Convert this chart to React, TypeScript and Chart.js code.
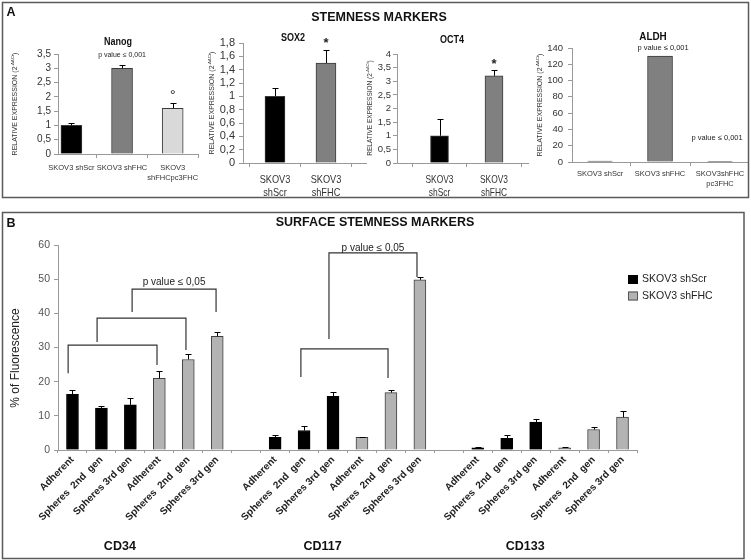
import React, { useEffect, useRef } from 'react';
import { Chart, registerables } from 'chart.js';

Chart.register(...registerables);

const W = 751;
const H = 560;
const FONT = 'Arial, "Liberation Sans", Helvetica, sans-serif';

// ---------------- Panel A data ----------------
const nanogCategories = [['SKOV3 shScr'], ['SKOV3 shFHC'], ['SKOV3', 'shFHCpc3FHC']];
const nanogValues = [1.0, 3.0, 1.6];
const nanogErrors = [0.1, 0.1, 0.2];
const nanogTicks = [0, 0.5, 1, 1.5, 2, 2.5, 3, 3.5];

const sox2Categories = [['SKOV3', 'shScr'], ['SKOV3', 'shFHC']];
const sox2Values = [1.0, 1.5];
const sox2Errors = [0.12, 0.2];
const sox2Ticks = [0, 0.2, 0.4, 0.6, 0.8, 1, 1.2, 1.4, 1.6, 1.8];

const oct4Categories = [['SKOV3', 'shScr'], ['SKOV3', 'shFHC']];
const oct4Values = [1.0, 3.2];
const oct4Errors = [0.6, 0.23];
const oct4Ticks = [0, 0.5, 1, 1.5, 2, 2.5, 3, 3.5, 4];

const aldhCategories = [['SKOV3 shScr'], ['SKOV3 shFHC'], ['SKOV3shFHC', 'pc3FHC']];
const aldhValues = [1, 130, 0.3];
const aldhErrors = [0, 0, 0];
const aldhTicks = [0, 20, 40, 60, 80, 100, 120, 140];

// ---------------- Panel B data ----------------
const markers = ['CD34', 'CD117', 'CD133'];
const conditions = ['Adherent', 'Spheres  2nd  gen', 'Spheres 3rd gen'];
const seriesNames = ['SKOV3 shScr', 'SKOV3 shFHC'];
const shScrValues = [[16.3, 12.3, 13.2], [3.7, 5.7, 15.7], [0.6, 3.4, 8.2]];
const shScrErrors = [[1.3, 0.5, 2.0], [0.8, 1.2, 1.4], [0.2, 1.1, 0.8]];
const shFhcValues = [[21.0, 26.5, 33.3], [3.7, 16.8, 49.8], [0.6, 6.0, 9.6]];
const shFhcErrors = [[2.2, 1.5, 1.2], [0.2, 0.8, 0.8], [0.2, 0.6, 1.7]];
const bTicks = [0, 10, 20, 30, 40, 50, 60];

// significance brackets (category index units, y in % units)
const bBrackets = [
  { from: -0.15, to: 2.92, y: 30.7, leftY: 22.5, rightY: 24.9 },
  { from: 0.85, to: 3.92, y: 38.6, leftY: 31.6, rightY: 29.3 },
  { from: 2.06, to: 4.96, y: 47.1, leftY: 40.4, rightY: 40.4 },
  { from: 7.89, to: 10.9, y: 29.6, leftY: 21.4, rightY: 21.1 },
  { from: 8.86, to: 11.9, y: 57.7, leftY: 32.5, rightY: 50.6 },
];
const bNotes = [
  { text: 'p value ≤ 0,05', at: 3.51, y: 49.0 },
  { text: 'p value ≤ 0,05', at: 10.38, y: 59.1 },
];

// ---------------- helpers ----------------
type TextOpts = {
  size: number;
  bold?: boolean;
  color?: string;
  align?: CanvasTextAlign;
  baseline?: CanvasTextBaseline;
  sx?: number;
  rot?: number;
};

function drawText(ctx: CanvasRenderingContext2D, text: string, x: number, y: number, o: TextOpts) {
  ctx.save();
  ctx.translate(x, y);
  if (o.rot) ctx.rotate(o.rot);
  if (o.sx && o.sx !== 1) ctx.scale(o.sx, 1);
  ctx.font = `${o.bold ? 'bold ' : ''}${o.size}px ${FONT}`;
  ctx.fillStyle = o.color ?? '#222';
  ctx.textAlign = o.align ?? 'center';
  ctx.textBaseline = o.baseline ?? 'middle';
  ctx.fillText(text, 0, 0);
  ctx.restore();
}

function drawYTitle(ctx: CanvasRenderingContext2D, cx: number, cy: number, size: number) {
  const main = 'RELATIVE EXPRESSION (2';
  const sup = '-ΔΔCt';
  const end = ')';
  const fMain = `${size}px ${FONT}`;
  const fSup = `${size * 0.62}px ${FONT}`;
  ctx.save();
  ctx.translate(cx, cy);
  ctx.rotate(-Math.PI / 2);
  ctx.fillStyle = '#333';
  ctx.textAlign = 'left';
  ctx.textBaseline = 'middle';
  ctx.font = fMain;
  const w1 = ctx.measureText(main).width;
  const w3 = ctx.measureText(end).width;
  ctx.font = fSup;
  const w2 = ctx.measureText(sup).width;
  let x = -(w1 + w2 + w3) / 2;
  ctx.font = fMain;
  ctx.fillText(main, x, 0);
  x += w1;
  ctx.font = fSup;
  ctx.fillText(sup, x, -size * 0.38);
  x += w2;
  ctx.font = fMain;
  ctx.fillText(end, x, 0);
  ctx.restore();
}

type Note = { text: string; bar: number; dy: number; dx?: number; size: number; bold?: boolean };
type ASpec = {
  key: string;
  area: { l: number; t: number; r: number; b: number };
  xMin: number;
  xMax: number;
  yTicks: number[];
  values: number[];
  errors: number[];
  categories: string[][];
  colors: string[];
  barWidth: number;
  tickFont: number;
  tickPad: number;
  labelFont: number;
  labelSx: number;
  labelY: number;
  labelLH: number;
  title: string;
  titleX: number;
  titleY: number;
  titleFont: number;
  yTitleX: number;
  yTitleY: number;
  yTitleSize: number;
  notes: Note[];
};

function aConfig(s: ASpec): any {
  const Wy = 30;
  const Hx = 20;
  const plugin = {
    id: 'panelA_' + s.key,
    afterDraw(chart: any) {
      const ctx: CanvasRenderingContext2D = chart.ctx;
      const xs = chart.scales.x;
      const ys = chart.scales.y;
      const meta = chart.getDatasetMeta(0);
      ctx.save();
      ctx.strokeStyle = '#000';
      ctx.lineWidth = 1;
      s.values.forEach((v, i) => {
        const e = s.errors[i];
        if (!e) return;
        const bar = meta.data[i];
        const x = Math.round(bar.x) + 0.5;
        const y1 = Math.round(ys.getPixelForValue(v + e)) + 0.5;
        ctx.beginPath();
        ctx.moveTo(x, bar.y);
        ctx.lineTo(x, y1);
        ctx.moveTo(x - 3, y1);
        ctx.lineTo(x + 3, y1);
        ctx.stroke();
      });
      ctx.restore();
      s.categories.forEach((lines, i) => {
        const x = xs.getPixelForValue(i);
        lines.forEach((ln, j) =>
          drawText(ctx, ln, x, s.labelY + j * s.labelLH, { size: s.labelFont, sx: s.labelSx, color: '#333' })
        );
      });
      drawText(ctx, s.title, s.titleX, s.titleY, { size: s.titleFont, bold: true, sx: 0.9, color: '#111' });
      s.notes.forEach((n) => {
        const x = xs.getPixelForValue(n.bar) + (n.dx || 0);
        const y = ys.getPixelForValue(s.values[n.bar] + s.errors[n.bar]) - n.dy;
        drawText(ctx, n.text, x, y, { size: n.size, bold: n.bold, color: '#222' });
      });
      drawYTitle(ctx, s.yTitleX, s.yTitleY, s.yTitleSize);
    },
  };
  return {
    type: 'bar',
    data: {
      datasets: [
        {
          data: s.values.map((v, i) => ({ x: i, y: v })),
          backgroundColor: s.colors,
          borderColor: '#3a3a3a',
          borderWidth: 1,
          barThickness: s.barWidth,
        },
      ],
    },
    options: {
      responsive: false,
      animation: false,
      events: [],
      layout: { padding: { left: s.area.l - Wy, top: s.area.t, right: W - s.area.r, bottom: H - s.area.b - Hx } },
      plugins: { legend: { display: false }, tooltip: { enabled: false } },
      scales: {
        x: {
          type: 'linear',
          min: s.xMin,
          max: s.xMax,
          offset: false,
          afterBuildTicks: (sc: any) => {
            sc.ticks = s.values.map((_, i) => ({ value: i }));
          },
          ticks: { display: false, autoSkip: false },
          grid: { offset: true, drawOnChartArea: false, drawTicks: true, tickLength: 4, color: '#999' },
          border: { color: '#999' },
          afterFit: (sc: any) => {
            sc.height = Hx;
          },
        },
        y: {
          type: 'linear',
          min: 0,
          max: s.yTicks[s.yTicks.length - 1],
          afterBuildTicks: (sc: any) => {
            sc.ticks = s.yTicks.map((v) => ({ value: v }));
          },
          ticks: {
            autoSkip: false,
            font: { size: s.tickFont, family: FONT },
            color: '#333',
            padding: s.tickPad,
            callback: (v: any) => String(v).replace('.', ','),
          },
          grid: { drawOnChartArea: false, tickLength: 4, color: '#999' },
          border: { color: '#999' },
          afterFit: (sc: any) => {
            sc.width = Wy;
          },
        },
      },
    },
    plugins: [plugin],
  };
}

const nanogSpec: ASpec = {
  key: 'nanog',
  area: { l: 58, t: 54, r: 198, b: 154 },
  xMin: -0.265,
  xMax: 2.5,
  yTicks: nanogTicks,
  values: nanogValues,
  errors: nanogErrors,
  categories: nanogCategories,
  colors: ['#000000', '#7f7f7f', '#d9d9d9'],
  barWidth: 21,
  tickFont: 10,
  tickPad: 3,
  labelFont: 7.5,
  labelSx: 1,
  labelY: 168,
  labelLH: 9.5,
  title: 'Nanog',
  titleX: 118,
  titleY: 42,
  titleFont: 10,
  yTitleX: 15,
  yTitleY: 104,
  yTitleSize: 7,
  notes: [
    { text: 'p value ≤ 0,001', bar: 1, dy: 10.5, size: 7 },
    { text: '°', bar: 2, dy: 6, size: 14 },
  ],
};

const sox2Spec: ASpec = {
  key: 'sox2',
  area: { l: 243, t: 43, r: 366, b: 163 },
  xMin: -0.627,
  xMax: 1.785,
  yTicks: sox2Ticks,
  values: sox2Values,
  errors: sox2Errors,
  categories: sox2Categories,
  colors: ['#000000', '#808080'],
  barWidth: 20,
  tickFont: 11,
  tickPad: 4,
  labelFont: 11.5,
  labelSx: 0.8,
  labelY: 180,
  labelLH: 13,
  title: 'SOX2',
  titleX: 293,
  titleY: 38,
  titleFont: 10,
  yTitleX: 212,
  yTitleY: 103,
  yTitleSize: 7,
  notes: [{ text: '*', bar: 1, dy: 6, size: 13, bold: true }],
};

const oct4Spec: ASpec = {
  key: 'oct4',
  area: { l: 397, t: 54, r: 528, b: 163 },
  xMin: -0.78,
  xMax: 1.624,
  yTicks: oct4Ticks,
  values: oct4Values,
  errors: oct4Errors,
  categories: oct4Categories,
  colors: ['#000000', '#808080'],
  barWidth: 18,
  tickFont: 9.5,
  tickPad: 2,
  labelFont: 10.5,
  labelSx: 0.8,
  labelY: 180,
  labelLH: 13,
  title: 'OCT4',
  titleX: 452,
  titleY: 40,
  titleFont: 10,
  yTitleX: 370,
  yTitleY: 108,
  yTitleSize: 6.5,
  notes: [{ text: '*', bar: 1, dy: 5, size: 13, bold: true }],
};

const aldhSpec: ASpec = {
  key: 'aldh',
  area: { l: 572, t: 48, r: 748, b: 162 },
  xMin: -0.467,
  xMax: 2.466,
  yTicks: aldhTicks,
  values: aldhValues,
  errors: aldhErrors,
  categories: aldhCategories,
  colors: ['#808080', '#808080', '#808080'],
  barWidth: 25,
  tickFont: 9.5,
  tickPad: 5,
  labelFont: 7.5,
  labelSx: 1,
  labelY: 174,
  labelLH: 10,
  title: 'ALDH',
  titleX: 653,
  titleY: 37,
  titleFont: 11,
  yTitleX: 540,
  yTitleY: 105,
  yTitleSize: 7,
  notes: [
    { text: 'p value ≤ 0,001', bar: 1, dy: 8, dx: 3, size: 7.5 },
    { text: 'p value ≤ 0,001', bar: 2, dy: 24, dx: -3, size: 7.5 },
  ],
};

function bConfig(): any {
  const labels: string[] = [];
  const scr: (number | null)[] = [];
  const fhc: (number | null)[] = [];
  const scrE: (number | null)[] = [];
  const fhcE: (number | null)[] = [];
  markers.forEach((_m, mi) => {
    conditions.forEach((c, ci) => {
      labels.push(c);
      scr.push(shScrValues[mi][ci]);
      scrE.push(shScrErrors[mi][ci]);
      fhc.push(null);
      fhcE.push(null);
    });
    conditions.forEach((c, ci) => {
      labels.push(c);
      fhc.push(shFhcValues[mi][ci]);
      fhcE.push(shFhcErrors[mi][ci]);
      scr.push(null);
      scrE.push(null);
    });
    if (mi < markers.length - 1) {
      labels.push('');
      scr.push(null);
      fhc.push(null);
      scrE.push(null);
      fhcE.push(null);
    }
  });
  const errs = [scrE, fhcE];
  const Wy = 40;
  const Hx = 80;
  const plugin = {
    id: 'panelB',
    beforeDraw(chart: any) {
      const ctx: CanvasRenderingContext2D = chart.ctx;
      ctx.save();
      ctx.strokeStyle = '#5a5a5a';
      ctx.lineWidth = 1.5;
      ctx.strokeRect(2.5, 2.5, 746, 195);
      ctx.strokeRect(2.5, 212.5, 741.5, 346);
      ctx.restore();
    },
    afterDraw(chart: any) {
      const ctx: CanvasRenderingContext2D = chart.ctx;
      const xs = chart.scales.x;
      const ys = chart.scales.y;
      // panel texts
      drawText(ctx, 'A', 11, 13, { size: 12.5, bold: true, color: '#111' });
      drawText(ctx, 'STEMNESS MARKERS', 379, 18, { size: 12.5, bold: true, color: '#111' });
      drawText(ctx, 'B', 11, 224, { size: 12.5, bold: true, color: '#111' });
      drawText(ctx, 'SURFACE STEMNESS MARKERS', 375, 223, { size: 12.5, bold: true, color: '#111' });
      // error bars
      ctx.save();
      ctx.strokeStyle = '#000';
      ctx.lineWidth = 1;
      [0, 1].forEach((d) => {
        const meta = chart.getDatasetMeta(d);
        const data = chart.data.datasets[d].data;
        data.forEach((v: number | null, i: number) => {
          const e = errs[d][i];
          if (v == null || !e) return;
          const bar = meta.data[i];
          const x = Math.round(bar.x) + 0.5;
          const y1 = Math.round(ys.getPixelForValue(v + e)) + 0.5;
          ctx.beginPath();
          ctx.moveTo(x, bar.y);
          ctx.lineTo(x, y1);
          ctx.moveTo(x - 3, y1);
          ctx.lineTo(x + 3, y1);
          ctx.stroke();
        });
      });
      // brackets
      ctx.strokeStyle = '#333';
      ctx.lineWidth = 1.2;
      bBrackets.forEach((b) => {
        const x1 = xs.getPixelForValue(b.from);
        const x2 = xs.getPixelForValue(b.to);
        const y = ys.getPixelForValue(b.y);
        ctx.beginPath();
        ctx.moveTo(x1, ys.getPixelForValue(b.leftY));
        ctx.lineTo(x1, y);
        ctx.lineTo(x2, y);
        ctx.lineTo(x2, ys.getPixelForValue(b.rightY));
        ctx.stroke();
      });
      ctx.restore();
      bNotes.forEach((n) => {
        drawText(ctx, n.text, xs.getPixelForValue(n.at), ys.getPixelForValue(n.y), { size: 10, color: '#222' });
      });
      // group labels
      markers.forEach((m, mi) => {
        const x = xs.getPixelForValue(mi * 7 + 2.5) - 25;
        drawText(ctx, m, x, 547, { size: 12.5, bold: true, color: '#111' });
      });
      // y title
      drawText(ctx, '% of Fluorescence', 16, 358, { size: 12, color: '#222', rot: -Math.PI / 2 });
      // legend
      const legendColors = ['#000000', '#b3b3b3'];
      seriesNames.forEach((name, i) => {
        const y = 275 + i * 16.5;
        ctx.save();
        ctx.fillStyle = legendColors[i];
        ctx.fillRect(628, y, 10, 9);
        ctx.strokeStyle = i === 0 ? '#000' : '#555';
        ctx.lineWidth = 1;
        ctx.strokeRect(628.5, y + 0.5, 9, 8);
        ctx.restore();
        drawText(ctx, name, 642, y + 4.5, { size: 10.5, color: '#222', align: 'left' });
      });
    },
  };
  return {
    type: 'bar',
    data: {
      labels,
      datasets: [
        {
          label: seriesNames[0],
          data: scr,
          backgroundColor: '#000000',
          borderColor: '#000000',
          borderWidth: 1,
          barThickness: 12,
          grouped: false,
        },
        {
          label: seriesNames[1],
          data: fhc,
          backgroundColor: '#b3b3b3',
          borderColor: '#404040',
          borderWidth: 1,
          barThickness: 12,
          grouped: false,
        },
      ],
    },
    options: {
      responsive: false,
      animation: false,
      events: [],
      layout: { padding: { left: 58 - Wy, top: 245, right: W - 637, bottom: H - 450 - Hx } },
      plugins: { legend: { display: false }, tooltip: { enabled: false } },
      scales: {
        x: {
          type: 'category',
          offset: true,
          grid: { offset: true, drawOnChartArea: false, tickLength: 3, color: '#999' },
          border: { color: '#999' },
          ticks: {
            autoSkip: false,
            minRotation: 45,
            maxRotation: 45,
            padding: 1,
            color: '#222',
            font: { size: 10, weight: 'bold', family: FONT },
          },
          afterFit: (sc: any) => {
            sc.height = Hx;
          },
        },
        y: {
          min: 0,
          max: 60,
          afterBuildTicks: (sc: any) => {
            sc.ticks = bTicks.map((v) => ({ value: v }));
          },
          ticks: { autoSkip: false, font: { size: 10.5, family: FONT }, color: '#555', padding: 4 },
          grid: { drawOnChartArea: false, tickLength: 4, color: '#999' },
          border: { color: '#999' },
          afterFit: (sc: any) => {
            sc.width = Wy;
          },
        },
      },
    },
    plugins: [plugin],
  };
}

export default function App() {
  const r0 = useRef<HTMLCanvasElement>(null);
  const r1 = useRef<HTMLCanvasElement>(null);
  const r2 = useRef<HTMLCanvasElement>(null);
  const r3 = useRef<HTMLCanvasElement>(null);
  const r4 = useRef<HTMLCanvasElement>(null);
  const refs = [r0, r1, r2, r3, r4];

  useEffect(() => {
    const charts = [
      new Chart(r0.current as HTMLCanvasElement, aConfig(nanogSpec)),
      new Chart(r1.current as HTMLCanvasElement, aConfig(sox2Spec)),
      new Chart(r2.current as HTMLCanvasElement, aConfig(oct4Spec)),
      new Chart(r3.current as HTMLCanvasElement, aConfig(aldhSpec)),
      new Chart(r4.current as HTMLCanvasElement, bConfig()),
    ];
    return () => charts.forEach((c) => c.destroy());
  }, []);

  return (
    <div style={{ position: 'absolute', left: 0, top: 0, width: W, height: H, background: '#ffffff' }}>
      {refs.map((r, i) => (
        <canvas
          key={i}
          ref={r}
          width={W}
          height={H}
          style={{ position: 'absolute', left: 0, top: 0, width: W, height: H }}
        />
      ))}
    </div>
  );
}
